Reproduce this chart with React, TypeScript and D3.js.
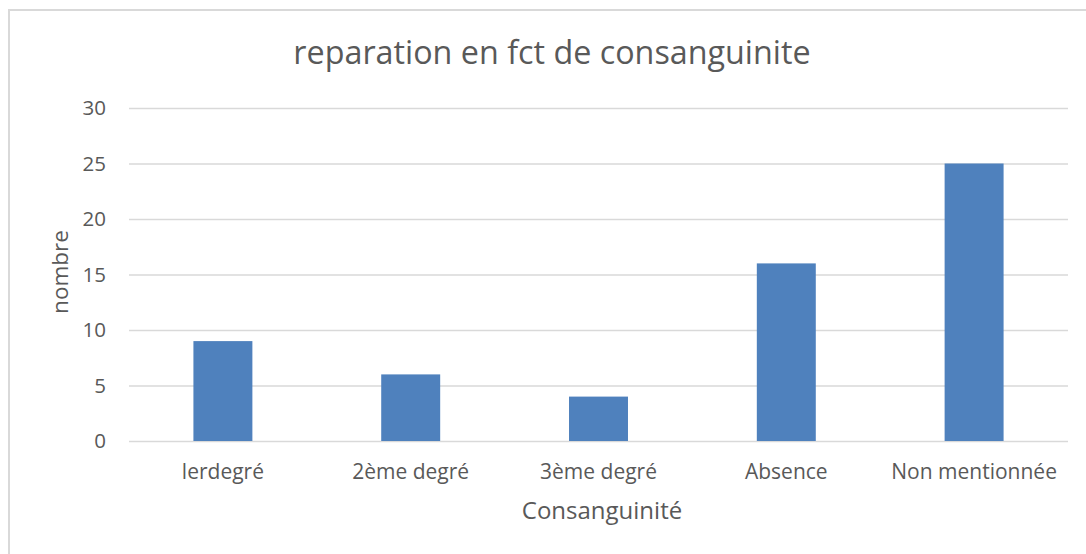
import React, { useEffect, useRef } from "react";
import * as d3 from "d3";

const categories = ["lerdegré", "2ème degré", "3ème degré", "Absence", "Non mentionnée"];
const values = [9, 6, 4, 16, 25];
const yTicks = [0, 5, 10, 15, 20, 25, 30];

const chartTitle = "reparation en fct de consanguinite";
const xTitle = "Consanguinité";
const yTitle = "nombre";

export default function App() {
  const svgRef = useRef<SVGSVGElement>(null);

  useEffect(() => {
    const w = 1086;
    const h = 554;
    const font = "'Open Sans', sans-serif";
    const textColor = "#595959";
    const svg = d3.select(svgRef.current);
    svg.selectAll("*").remove();

    // chart frame
    svg.append("rect")
      .attr("x", 9).attr("y", 10)
      .attr("width", w + 20).attr("height", h + 20)
      .attr("fill", "white")
      .attr("stroke", "#d9d9d9")
      .attr("stroke-width", 2);

    // scales
    const x = d3.scaleBand<string>()
      .domain(categories)
      .range([129, 1068])
      .padding(0);
    const y = d3.scaleLinear()
      .domain([0, 30])
      .range([441, 108]);

    // grid
    const yGrid = d3.axisLeft(y)
      .tickValues(yTicks)
      .tickSize(-(1068 - 129))
      .tickFormat(() => "");
    const grid = svg.append("g")
      .attr("transform", "translate(129,0)")
      .call(yGrid);
    grid.select(".domain").remove();
    grid.selectAll("line").attr("stroke", "#d9d9d9").attr("stroke-width", 1.5);

    // y tick labels
    const yAxis = d3.axisLeft(y)
      .tickValues(yTicks)
      .tickSize(0)
      .tickPadding(0);
    const ya = svg.append("g")
      .attr("transform", "translate(106,0)")
      .call(yAxis);
    ya.select(".domain").remove();
    ya.selectAll("text")
      .attr("fill", textColor)
      .style("font-family", font)
      .style("font-size", "20.5px");

    // bars
    const barW = x.bandwidth() * 0.314;
    svg.selectAll(".bar")
      .data(values)
      .join("rect")
      .attr("class", "bar")
      .attr("x", (d, i) => (x(categories[i]) as number) + x.bandwidth() / 2 - barW / 2)
      .attr("y", d => y(d))
      .attr("width", barW)
      .attr("height", d => y(0) - y(d))
      .attr("fill", "#4f81bd");

    // x category labels
    const xAxis = d3.axisBottom(x).tickSize(0).tickPadding(0);
    const xa = svg.append("g")
      .attr("transform", "translate(0,441)")
      .call(xAxis);
    xa.select(".domain").remove();
    xa.selectAll("text")
      .attr("y", 38)
      .attr("dy", null)
      .attr("fill", textColor)
      .style("font-family", font)
      .style("font-size", "21px");

    // titles
    svg.append("text")
      .attr("x", 552).attr("y", 64)
      .attr("text-anchor", "middle")
      .attr("fill", textColor)
      .style("font-family", font)
      .style("font-size", "32.3px")
      .text(chartTitle);

    svg.append("text")
      .attr("x", 602).attr("y", 519)
      .attr("text-anchor", "middle")
      .attr("fill", textColor)
      .style("font-family", font)
      .style("font-size", "24px")
      .text(xTitle);

    svg.append("text")
      .attr("transform", "translate(68,272) rotate(-90)")
      .attr("text-anchor", "middle")
      .attr("fill", textColor)
      .style("font-family", font)
      .style("font-size", "22.5px")
      .text(yTitle);
  }, []);

  return (
    <svg
      ref={svgRef}
      width={1086}
      height={554}
      style={{ position: "absolute", left: 0, top: 0, background: "white" }}
    />
  );
}
